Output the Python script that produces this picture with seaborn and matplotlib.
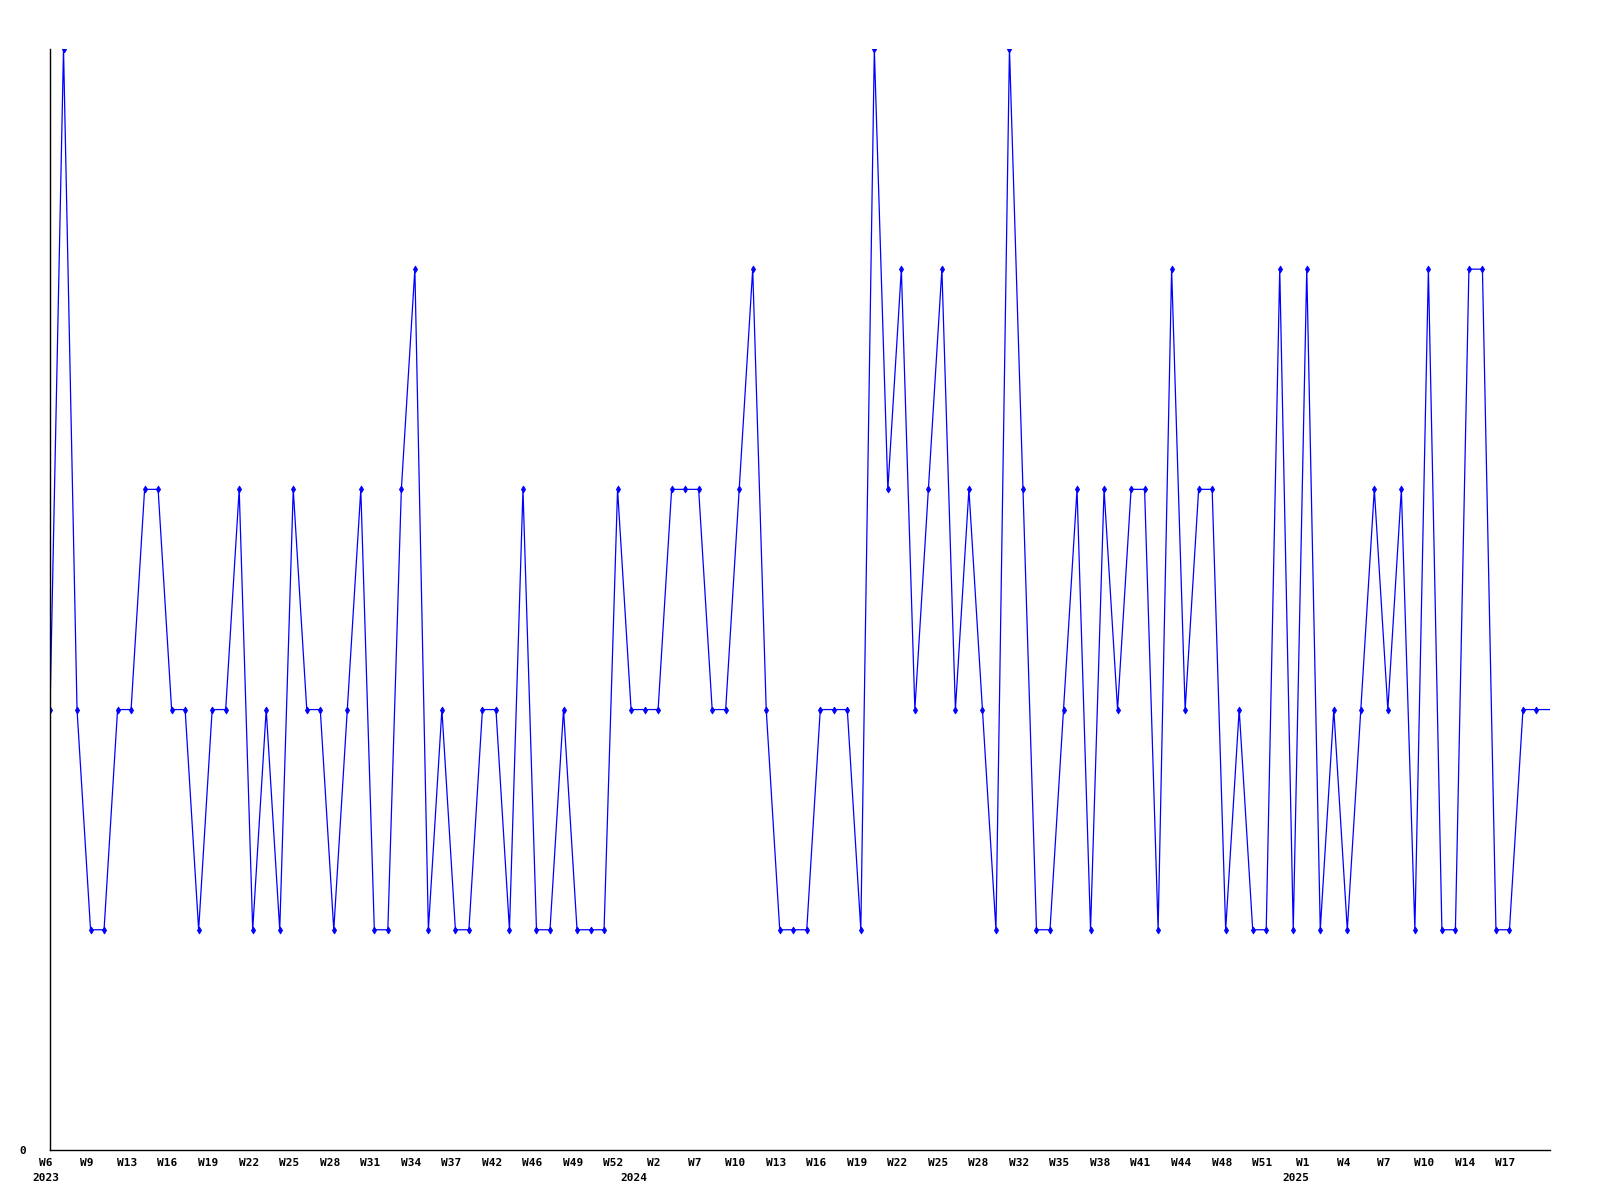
import numpy as np
import pandas as pd
import seaborn as sns
import matplotlib.pyplot as plt
import matplotlib.transforms as mtransforms

# weekly counts, one value per plotted week (2023 W6 .. 2025 W19)
values = [2, 5, 2, 1, 1, 2, 2, 3, 3, 2, 2, 1, 2, 2, 3, 1, 2, 1, 3, 2,
          2, 1, 2, 3, 1, 1, 3, 4, 1, 2, 1, 1, 2, 2, 1, 3, 1, 1, 2, 1,
          1, 1, 3, 2, 2, 2, 3, 3, 3, 2, 2, 3, 4, 2, 1, 1, 1, 2, 2, 2,
          1, 5, 3, 4, 2, 3, 4, 2, 3, 2, 1, 5, 3, 1, 1, 2, 3, 1, 3, 2,
          3, 3, 1, 4, 2, 3, 3, 1, 2, 1, 1, 4, 1, 4, 1, 2, 1, 2, 3, 2,
          3, 1, 4, 1, 1, 4, 4, 1, 1, 2, 2, 2]

week_labels = ["W6", "W9", "W13", "W16", "W19", "W22", "W25", "W28", "W31",
               "W34", "W37", "W42", "W46", "W49", "W52", "W2", "W7", "W10",
               "W13", "W16", "W19", "W22", "W25", "W28", "W32", "W35", "W38",
               "W41", "W44", "W48", "W51", "W1", "W4", "W7", "W10", "W14", "W17"]
week_label_pos = list(range(0, 109, 3))

years = ["2023", "2024", "2025"]
year_pos = [0, 43.5, 92.5]

df = pd.DataFrame({"idx": np.arange(len(values)), "value": values})

sns.set_style("white")
plt.rcParams["font.family"] = ["DejaVu Sans Mono"]
plt.rcParams["text.color"] = "black"
plt.rcParams["xtick.color"] = "black"
plt.rcParams["ytick.color"] = "black"

fig = plt.figure(figsize=(16, 12), dpi=100)
ax = fig.add_axes([0.03125, 0.0417, 0.9375, 0.9175])

# last week has no marker (still in progress)
sns.lineplot(data=df, x="idx", y="value", ax=ax, color="#0000ff",
             linewidth=0.9, marker="d", markersize=3.5, markeredgewidth=0.6,
             markeredgecolor="#0000ff", markevery=list(range(len(values) - 1)))

ax.set_xlim(0, len(values) - 1)
ax.set_ylim(0, 5)
ax.set_xlabel("")
ax.set_ylabel("")

ax.set_xticks(week_label_pos)
ax.set_xticklabels(week_labels, fontsize=8, fontweight="bold")
ax.set_yticks([0])
ax.set_yticklabels(["0"], fontsize=8, fontweight="bold")
ax.tick_params(axis="x", length=0, pad=6)
ax.tick_params(axis="y", length=0, pad=17)

# nudge labels a little left, like the original rendering
offset = mtransforms.ScaledTranslation(-4 / 100, 0, fig.dpi_scale_trans)
for lab in ax.get_xticklabels():
    lab.set_transform(lab.get_transform() + offset)

trans = mtransforms.blended_transform_factory(ax.transData, ax.transAxes)
for yr, pos in zip(years, year_pos):
    ax.text(pos, -0.021, yr, transform=trans + offset, ha="center", va="top",
            fontsize=8, fontweight="bold")

for side in ["top", "right"]:
    ax.spines[side].set_visible(False)
for side in ["left", "bottom"]:
    ax.spines[side].set_color("black")
    ax.spines[side].set_linewidth(1)

plt.savefig("out.png", dpi=100)
